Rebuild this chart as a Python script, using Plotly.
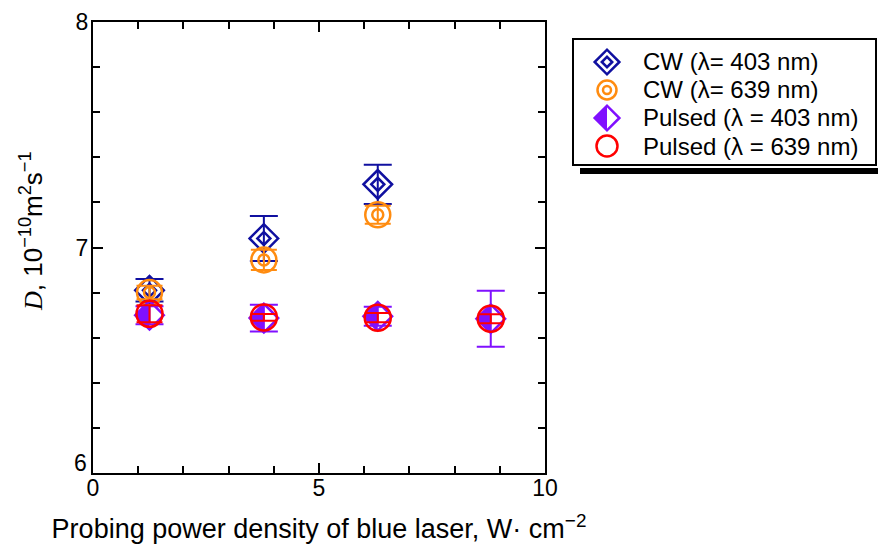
import plotly.graph_objects as go

# ---- data -------------------------------------------------------------
power_cw = [1.25, 3.78, 6.30]
power_pulsed = [1.25, 3.78, 6.30, 8.80]

d_cw_403 = [6.81, 7.04, 7.28]
err_cw_403 = [0.05, 0.10, 0.087]

d_cw_639 = [6.80, 6.945, 7.145]
err_cw_639 = [0.03, 0.045, 0.04]

d_pulsed_403 = [6.70, 6.687, 6.695, 6.684]
err_pulsed_403 = [0.04, 0.059, 0.042, 0.124]

d_pulsed_639 = [6.706, 6.690, 6.689, 6.684]
err_pulsed_639 = [0.038, 0.015, 0.02, 0.02]

x_ticks = [0, 5, 10]
y_min, y_max = 6, 8
y_ticks = [7, 8]  # the lowest label (6) is set slightly above the corner

legend_labels = [
    "CW (\u03bb= 403 nm)",
    "CW (\u03bb= 639 nm)",
    "Pulsed (\u03bb = 403 nm)",
    "Pulsed (\u03bb = 639 nm)",
]

# ---- styles -----------------------------------------------------------
NAVY = "#1010a0"
ORANGE = "#ff8c10"
VIOLET = "#8010ff"
RED = "#ff0000"
FONT = "Liberation Sans, Arial, sans-serif"

W, H = 878, 545
ML, MR, MT, MB = 93, 0, 22, 72
PW = W - ML - MR
PH = H - MT - MB
PLOT_RIGHT = 545  # pixel position of the right frame of the main panel


def px_x(p):
    return (p - ML) / PW


def px_y(p):
    return 1 - (p - MT) / PH


fig = go.Figure()


def err(vals, color, half_width):
    return dict(type="data", array=vals, visible=True, color=color,
                thickness=2, width=half_width)


# CW 403 nm: double diamond
fig.add_trace(go.Scatter(
    x=power_cw, y=d_cw_403, mode="markers",
    marker=dict(symbol="diamond-open", size=22, color=NAVY, line=dict(width=2.5, color=NAVY)),
    error_y=err(err_cw_403, NAVY, 14), showlegend=False))
fig.add_trace(go.Scatter(
    x=power_cw, y=d_cw_403, mode="markers",
    marker=dict(symbol="diamond-open", size=10, color=NAVY, line=dict(width=2.5, color=NAVY)),
    showlegend=False))

# CW 639 nm: double circle
fig.add_trace(go.Scatter(
    x=power_cw, y=d_cw_639, mode="markers",
    marker=dict(symbol="circle-open", size=25, color=ORANGE, line=dict(width=2.5, color=ORANGE)),
    error_y=err(err_cw_639, ORANGE, 13), showlegend=False))
fig.add_trace(go.Scatter(
    x=power_cw, y=d_cw_639, mode="markers",
    marker=dict(symbol="circle-open", size=11, color=ORANGE, line=dict(width=2.5, color=ORANGE)),
    showlegend=False))

# Pulsed 403 nm: half-filled diamond (outline here, fill as shapes below)
fig.add_trace(go.Scatter(
    x=power_pulsed, y=d_pulsed_403, mode="markers",
    marker=dict(symbol="diamond-open", size=22, color=VIOLET, line=dict(width=2.5, color=VIOLET)),
    error_y=err(err_pulsed_403, VIOLET, 14), showlegend=False))

# Pulsed 639 nm: open circle
fig.add_trace(go.Scatter(
    x=power_pulsed, y=d_pulsed_639, mode="markers",
    marker=dict(symbol="circle-open", size=26, color=RED, line=dict(width=2.5, color=RED)),
    error_y=err(err_pulsed_639, RED, 13), showlegend=False))

shapes = []
HALF = 14.3  # half diagonal of a size-22 diamond marker
half_diamond = f"M {-HALF},0 L 0,{HALF} L 0,{-HALF} Z"
for xv, yv in zip(power_pulsed, d_pulsed_403):
    shapes.append(dict(type="path", xref="x", yref="y", xsizemode="pixel", ysizemode="pixel",
                       xanchor=xv, yanchor=yv, path=half_diamond,
                       fillcolor=VIOLET, line=dict(width=0), layer="below"))

# ---- custom legend (own hidden axes, pixel-like units) ----------------
LX0, LX1, LY0, LY1 = 565, 878, 30, 182
leg_top, leg_step = 62, 28
leg_mx, leg_tx = 607, 641
rows = [leg_top + i * leg_step for i in range(len(legend_labels))]

fig.add_trace(go.Scatter(x=[leg_mx], y=[rows[0]], xaxis="x2", yaxis="y2", mode="markers",
                         marker=dict(symbol="diamond-open", size=19, color=NAVY, line=dict(width=2.5, color=NAVY)),
                         showlegend=False, hoverinfo="skip"))
fig.add_trace(go.Scatter(x=[leg_mx], y=[rows[0]], xaxis="x2", yaxis="y2", mode="markers",
                         marker=dict(symbol="diamond-open", size=8, color=NAVY, line=dict(width=2.5, color=NAVY)),
                         showlegend=False, hoverinfo="skip"))
fig.add_trace(go.Scatter(x=[leg_mx], y=[rows[1]], xaxis="x2", yaxis="y2", mode="markers",
                         marker=dict(symbol="circle-open", size=19, color=ORANGE, line=dict(width=2.5, color=ORANGE)),
                         showlegend=False, hoverinfo="skip"))
fig.add_trace(go.Scatter(x=[leg_mx], y=[rows[1]], xaxis="x2", yaxis="y2", mode="markers",
                         marker=dict(symbol="circle-open", size=8, color=ORANGE, line=dict(width=2.5, color=ORANGE)),
                         showlegend=False, hoverinfo="skip"))
fig.add_trace(go.Scatter(x=[leg_mx], y=[rows[2]], xaxis="x2", yaxis="y2", mode="markers",
                         marker=dict(symbol="diamond-open", size=19, color=VIOLET, line=dict(width=2.5, color=VIOLET)),
                         showlegend=False, hoverinfo="skip"))
fig.add_trace(go.Scatter(x=[leg_mx], y=[rows[3]], xaxis="x2", yaxis="y2", mode="markers",
                         marker=dict(symbol="circle-open", size=21, color=RED, line=dict(width=2.5, color=RED)),
                         showlegend=False, hoverinfo="skip"))
LH = 1.3 * 19 / 2
shapes.append(dict(type="path", xref="x2", yref="y2", xsizemode="pixel", ysizemode="pixel",
                   xanchor=leg_mx, yanchor=rows[2], path=f"M {-LH},0 L 0,{LH} L 0,{-LH} Z",
                   fillcolor=VIOLET, line=dict(width=0), layer="below"))

# legend frame and drop shadow
shapes.append(dict(type="rect", xref="x2", yref="y2", x0=573, x1=876, y0=39, y1=165,
                   line=dict(color="black", width=2), fillcolor="rgba(0,0,0,0)", layer="below"))
shapes.append(dict(type="rect", xref="x2", yref="y2", x0=580, x1=878, y0=168, y1=174,
                   line=dict(width=0), fillcolor="black", layer="below"))

annotations = []
for label, yy in zip(legend_labels, rows):
    annotations.append(dict(x=leg_tx, y=yy, xref="x2", yref="y2", text=label, showarrow=False,
                            xanchor="left", yanchor="middle", font=dict(family=FONT, size=24, color="black")))

# y-axis title, placed in pixels left of the frame
annotations.append(dict(
    x=0, xshift=32 - ML, y=px_y(231), xref="paper", yref="paper", showarrow=False, textangle=-90,
    xanchor="center", yanchor="middle",
    text="<span style='font-family:Liberation Serif, Times New Roman, serif'><i>D</i></span>, "
         "10<sup>\u221210</sup>m<sup>2</sup>s<sup>\u22121</sup>",
    font=dict(family=FONT, size=26, color="black")))

# lowest y label, lifted off the corner so it clears the x label "0"
annotations.append(dict(
    x=0, xref="paper", y=y_min, yref="y", xshift=-4, yshift=10, showarrow=False,
    xanchor="right", yanchor="middle", text=str(y_min),
    font=dict(family=FONT, size=23, color="black")))

axis_common = dict(showline=True, linecolor="black", linewidth=2, mirror="ticks",
                   ticks="inside", ticklen=10, tickwidth=2, tickcolor="black",
                   showgrid=False, zeroline=False,
                   tickfont=dict(family=FONT, size=23, color="black"))

fig.update_layout(
    width=W, height=H, autosize=False,
    margin=dict(l=ML, r=MR, t=MT, b=MB, autoexpand=False),
    paper_bgcolor="white", plot_bgcolor="white",
    showlegend=False,
    shapes=shapes, annotations=annotations,
    xaxis=dict(domain=[0, px_x(PLOT_RIGHT)], range=[0, 10], tickvals=x_ticks,
               ticklabelstandoff=-7,
               minor=dict(ticks="inside", ticklen=7, tickwidth=2, tickcolor="black", dtick=1, tick0=0),
               title=dict(text="Probing power density of blue laser, W\u00b7 cm<sup>\u22122</sup>",
                          font=dict(family=FONT, size=27, color="black"), standoff=20),
               **axis_common),
    yaxis=dict(range=[y_min, y_max], tickvals=y_ticks, ticklabelstandoff=-2,
               minor=dict(ticks="inside", ticklen=7, tickwidth=2, tickcolor="black", dtick=0.2, tick0=y_min),
               **axis_common),
    xaxis2=dict(domain=[px_x(LX0), px_x(LX1)], range=[LX0, LX1], anchor="y2", visible=False, fixedrange=True),
    yaxis2=dict(domain=[px_y(LY1), px_y(LY0)], range=[LY1, LY0], anchor="x2", visible=False, fixedrange=True),
)

fig.write_html("out.html", config={"responsive": False})
